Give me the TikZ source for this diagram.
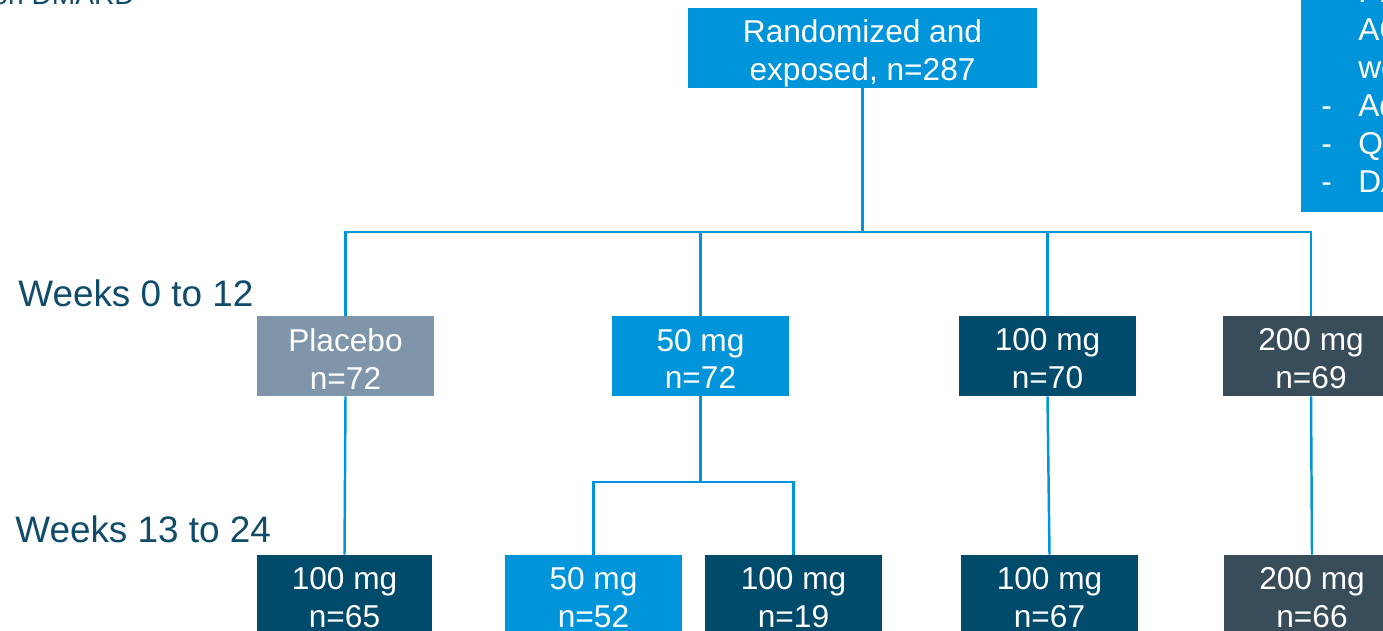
\documentclass[tikz,border=0pt]{standalone}
\usepackage{fontspec}
\setmainfont{Liberation Sans}
\definecolor{cblue}{RGB}{0,149,218}
\definecolor{cgrey}{RGB}{127,150,170}
\definecolor{cdark}{RGB}{0,74,107}
\definecolor{cslate}{RGB}{57,76,89}
\definecolor{cteal}{RGB}{16,76,106}
\begin{document}
\begin{tikzpicture}[x=0.02cm,y=-0.02cm,
  box/.style={inner sep=0pt, align=center, text=white, font=\fontsize{18}{21.5}\selectfont},
  arm/.style={inner sep=0pt, minimum width=3.54cm, minimum height=1.6cm},
  txt/.style={label={[box, yshift=-0.06cm]center:{#1}}},
  link/.style={draw=cblue, line width=1.4pt},
  period/.style={anchor=base west, inner sep=0pt, text=cteal, font=\fontsize{21}{25}\selectfont},
  listtxt/.style={anchor=base west, inner sep=0pt, text=white, font=\fontsize{18}{21.5}\selectfont}]
\useasboundingbox (0,0) rectangle (1383,631);
\clip (0,0) rectangle (1383,631);

% population note, top left
\node[anchor=base east, inner sep=0pt, text=cteal, font=\fontsize{16}{19}\selectfont] (note) at (135,5) {on DMARD};

% endpoint box, top right
\node[fill=cblue, inner sep=0pt, minimum width=3cm, minimum height=5.24cm, anchor=south west] (info) at (1301,212) {};
\node[listtxt] (d1) at (1321,3) {-};
\node[listtxt] (l1) at (1358,3) {Primary endpoint:};
\node[listtxt] (l2) at (1358,41) {ACR20 at};
\node[listtxt] (l3) at (1358,79) {week 12};
\node[listtxt] (d4) at (1321,117) {-};
\node[listtxt] (l4) at (1358,117) {Adverse events};
\node[listtxt] (d5) at (1321,155) {-};
\node[listtxt] (l5) at (1358,155) {QoL};
\node[listtxt] (d6) at (1321,193) {-};
\node[listtxt] (l6) at (1358,193) {DAS28};

% period labels
\node[period] (w1) at (18,307) {Weeks 0 to 12};
\node[period] (w2) at (15,542) {Weeks 13 to 24};

% randomisation
\node[arm, fill=cblue, minimum width=6.98cm,
      label={[box, yshift=-0.1cm]center:{Randomized and\\exposed, n=287}}] (top) at (862.5,48) {};

% weeks 0 to 12
\node[arm, fill=cgrey,  txt={Placebo\\n=72}] (p1) at (345.5,356) {};
\node[arm, fill=cblue,  txt={50 mg\\n=72}]   (p2) at (700.5,356) {};
\node[arm, fill=cdark,  txt={100 mg\\n=70}]  (p3) at (1047.5,356) {};
\node[arm, fill=cslate, txt={200 mg\\n=69}]  (p4) at (1311,356) {};

% weeks 13 to 24
\node[arm, fill=cdark, minimum width=3.5cm, txt={100 mg\\n=65}] (q1) at (344.5,595) {};
\node[arm, fill=cblue,  txt={50 mg\\n=52}]  (q2) at (593.5,595) {};
\node[arm, fill=cdark,  txt={100 mg\\n=19}] (q3) at (793.5,595) {};
\node[arm, fill=cdark,  txt={100 mg\\n=67}] (q4) at (1049.5,595) {};
\node[arm, fill=cslate, txt={200 mg\\n=66}] (q5) at (1312,595) {};

% connectors
\coordinate (bus) at (862.5,232);
\coordinate (split) at (700.5,482);
\draw[link] (top.south) -- (bus);
\draw[link] (p1.north) |- (bus) -| (p4.north);
\draw[link] (p2.north) -- (p2.north |- bus);
\draw[link] (p3.north) -- (p3.north |- bus);
\draw[link] (p1.south) -- (q1.north);
\draw[link] (p2.south) -- (split);
\draw[link] (q2.north) |- (split) -| (q3.north);
\draw[link] (p3.south) -- (q4.north);
\draw[link] (p4.south) -- (q5.north);
\end{tikzpicture}
\end{document}
